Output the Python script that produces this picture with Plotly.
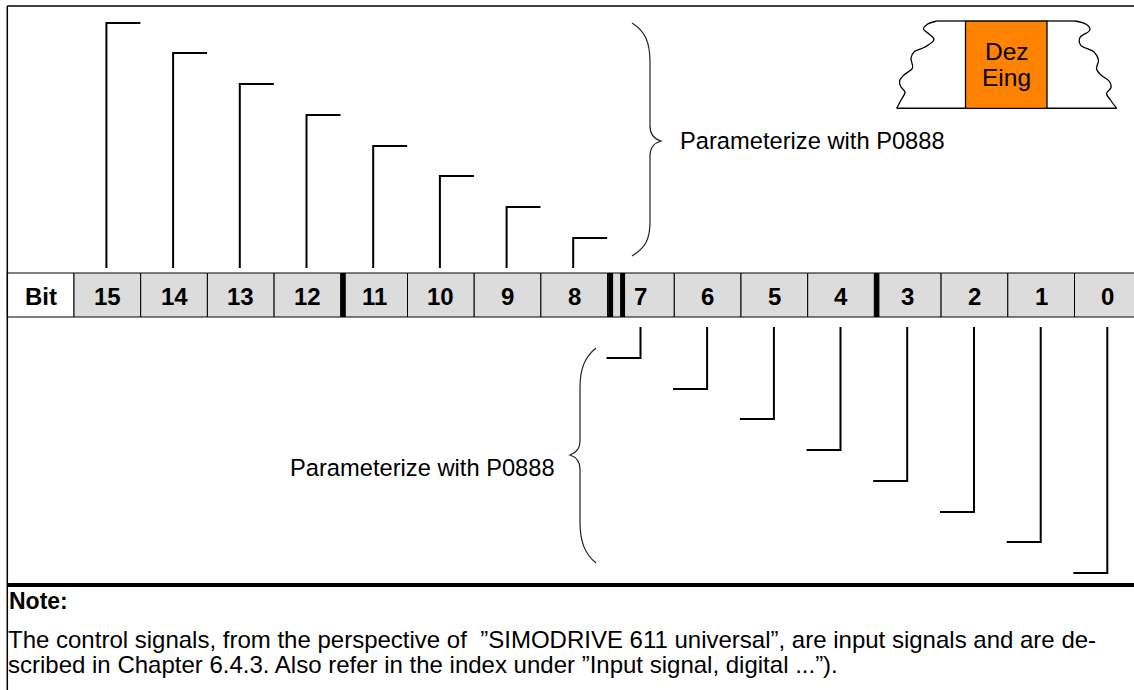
import plotly.graph_objects as go

# ---------------- data ----------------
header_label = "Bit"
bit_labels = ["15", "14", "13", "12", "11", "10", "9", "8",
              "7", "6", "5", "4", "3", "2", "1", "0"]
upper_bits = ["15", "14", "13", "12", "11", "10", "9", "8"]
upper_levels = [23, 53, 84, 115, 146, 176, 207, 238]        # top of each upper bracket
lower_bits = ["7", "6", "5", "4", "3", "2", "1", "0"]
lower_levels = [358, 389, 419, 450, 481, 512, 542, 573]     # bottom of each lower bracket
thick_after = ["12", "4"]        # thick separator right after these bits
double_after = ["8"]             # double separator right after these bits
param_text = "Parameterize with P0888"
box_lines = ["Dez", "Eing"]
note_title = "Note:"
note_lines = [
    "The control signals, from the perspective of  \u201dSIMODRIVE 611 universal\u201d, are input signals and are de-",
    "scribed in Chapter 6.4.3. Also refer in the index under \u201dInput signal, digital ...\u201d).",
]
wave_left_x = [936.7, 927.0, 923.5, 929.0, 934.0, 925.0, 914.5, 911.0, 912.5, 904.0, 899.5, 901.0, 905.0, 901.0, 896.7]
wave_left_y = [21.0, 24.5, 29.0, 34.0, 39.5, 47.0, 51.5, 58.0, 68.0, 75.0, 81.0, 87.0, 92.0, 100.0, 108.3]
wave_right_x = [1075.0, 1086.5, 1090.0, 1080.0, 1080.5, 1094.0, 1098.5, 1096.5, 1101.0, 1109.5, 1111.0, 1106.5, 1110.5, 1116.7]
wave_right_y = [21.0, 24.5, 30.0, 37.5, 45.0, 52.0, 60.0, 69.0, 75.0, 81.5, 87.5, 93.5, 100.0, 108.3]

# ---------------- layout constants ----------------
W, H = 1134, 690
FRAME_L, FRAME_T = 7.3, 6
PITCH = 66.7
ROW_T, ROW_B = 273, 317
FONT = "Liberation Sans, Arial, sans-serif"


def cell_left(i):
    return FRAME_L + PITCH * i


def slot(bit):
    return bit_labels.index(bit) + 1


def center(bit):
    i = slot(bit)
    return (cell_left(i) + cell_left(i + 1)) / 2


shapes = []
annotations = []

# frame
shapes.append(dict(type="line", x0=FRAME_L, x1=W + 5, y0=FRAME_T, y1=FRAME_T,
                   line=dict(color="black", width=1.5)))
shapes.append(dict(type="line", x0=FRAME_L, x1=FRAME_L, y0=FRAME_T, y1=H + 5,
                   line=dict(color="black", width=1.5)))

# bit row cells
for i in range(len(bit_labels) + 1):
    shapes.append(dict(type="rect", x0=cell_left(i), x1=cell_left(i + 1), y0=ROW_T, y1=ROW_B,
                       fillcolor="white" if i == 0 else "#dcdcdc",
                       line=dict(color="black", width=1), layer="below"))
annotations.append(dict(x=(cell_left(0) + cell_left(1)) / 2, y=(ROW_T + ROW_B) / 2 + 1,
                        text="<b>%s</b>" % header_label, showarrow=False,
                        font=dict(size=24, color="black", family=FONT)))
for b in bit_labels:
    annotations.append(dict(x=center(b), y=(ROW_T + ROW_B) / 2 + 1, text="<b>%s</b>" % b,
                            showarrow=False, font=dict(size=24, color="black", family=FONT)))

# thick separators
for b in thick_after:
    xb = cell_left(slot(b) + 1)
    shapes.append(dict(type="rect", x0=xb, x1=xb + 5, y0=ROW_T, y1=ROW_B,
                       fillcolor="black", line=dict(width=0)))
for b in double_after:
    xb = cell_left(slot(b) + 1)
    for off in (0.5, 12.5):
        shapes.append(dict(type="rect", x0=xb + off, x1=xb + off + 5, y0=ROW_T, y1=ROW_B,
                           fillcolor="black", line=dict(width=0)))

# upper brackets
for b, lv in zip(upper_bits, upper_levels):
    xc = center(b) - 1
    shapes.append(dict(type="path",
                       path="M %.1f,%.1f L %.1f,%.1f L %.1f,%.1f" % (xc, ROW_T - 5, xc, lv, xc + 34, lv),
                       line=dict(color="black", width=2)))
# lower brackets
for b, lv in zip(lower_bits, lower_levels):
    xc = center(b) - 0.5
    shapes.append(dict(type="path",
                       path="M %.1f,%.1f L %.1f,%.1f L %.1f,%.1f" % (xc, ROW_B + 10, xc, lv, xc - 34, lv),
                       line=dict(color="black", width=2)))

# braces
shapes.append(dict(type="path",
                   path="M 632,23 C 645,31 650,42 650,62 L 650,126 C 650,134 654,139 661,141 "
                        "C 654,143 650,148 650,156 L 650,222 C 650,240 645,248 632,256",
                   line=dict(color="#222222", width=1.2)))
shapes.append(dict(type="path",
                   path="M 596,348 C 585,357 580,368 580,388 L 580,441 C 580,449 576,453 570,455 "
                        "C 576,457 580,461 580,469 L 580,522 C 580,542 585,554 596,563",
                   line=dict(color="#222222", width=1.2)))
annotations.append(dict(x=678, y=141, text=param_text, xanchor="left", showarrow=False,
                        font=dict(size=23.7, color="black", family=FONT)))
annotations.append(dict(x=288, y=468, text=param_text, xanchor="left", showarrow=False,
                        font=dict(size=23.7, color="black", family=FONT)))

# Dez Eing symbol
shapes.append(dict(type="rect", x0=965.5, x1=1047, y0=21, y1=108.3, fillcolor="#ff8200",
                   line=dict(color="black", width=1.3)))
for xs in ((wave_left_x[0], 965.5), (1047, wave_right_x[0])):
    shapes.append(dict(type="line", x0=xs[0], x1=xs[1], y0=21, y1=21, line=dict(color="black", width=1.3)))
for xs in ((wave_left_x[-1], 965.5), (1047, wave_right_x[-1])):
    shapes.append(dict(type="line", x0=xs[0], x1=xs[1], y0=108.3, y1=108.3, line=dict(color="black", width=1.5)))
for k, t in enumerate(box_lines):
    annotations.append(dict(x=1006.5, y=51.5 + 25.5 * k, text=t, showarrow=False,
                            font=dict(size=24.5, color="black", family=FONT)))

# note section
shapes.append(dict(type="line", x0=FRAME_L, x1=W + 5, y0=585, y1=585, line=dict(color="black", width=4)))
annotations.append(dict(x=7, y=600.5, text="<b>%s</b>" % note_title, xanchor="left", showarrow=False,
                        font=dict(size=23, color="black", family=FONT)))
for k, t in enumerate(note_lines):
    annotations.append(dict(x=6, y=639.5 + 24.5 * k, text=t, xanchor="left", showarrow=False,
                            font=dict(size=24, color="black", family=FONT)))

fig = go.Figure()
fig.add_trace(go.Scatter(x=wave_left_x, y=wave_left_y, mode="lines",
                         line=dict(color="black", width=1.3, shape="spline", smoothing=1.0),
                         hoverinfo="skip", showlegend=False))
fig.add_trace(go.Scatter(x=wave_right_x, y=wave_right_y, mode="lines",
                         line=dict(color="black", width=1.3, shape="spline", smoothing=1.0),
                         hoverinfo="skip", showlegend=False))

fig.update_layout(
    width=W, height=H, margin=dict(l=0, r=0, t=0, b=0),
    paper_bgcolor="white", plot_bgcolor="white",
    xaxis=dict(range=[0, W], visible=False, fixedrange=True),
    yaxis=dict(range=[H, 0], visible=False, fixedrange=True),
    shapes=shapes, annotations=annotations, showlegend=False,
)
fig.write_html("out.html", post_script="document.body.style.margin='0px';",
               config={"displayModeBar": False})
